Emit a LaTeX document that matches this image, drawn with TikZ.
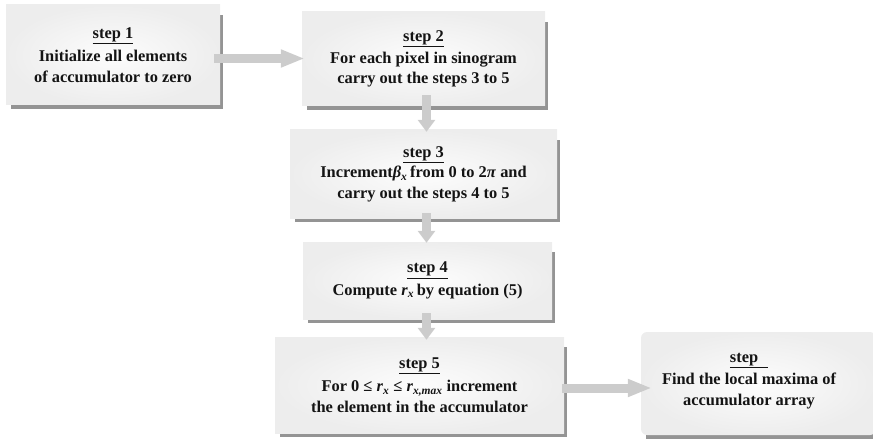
\documentclass[tikz,border=0pt]{standalone}
\usepackage{fontspec}
\setmainfont{Liberation Serif}
\usetikzlibrary{arrows.meta,backgrounds}
\newcommand\mysub[1]{\textsubscript{\textit{#1}}}
\begin{document}
\begin{tikzpicture}[x=1pt,y=1pt,
  box/.style={inner sep=0pt, align=center, text=black!92,
    font=\fontsize{16.4}{20.5}\selectfont\bfseries,
    inner color=black!1, outer color=black!7},
  plaintext/.style={inner sep=0pt, align=center, text=black!92,
    font=\fontsize{16.4}{20.5}\selectfont\bfseries},
  harrow/.style={draw=black!20, line width=9pt, -{Triangle[width=16.5pt,length=24pt]}},
  varrow/.style={draw=black!20, line width=9pt, -{Triangle[width=17pt,length=12pt]}},
  shadowc/.style={fill=black!42}
]
\useasboundingbox (0,0) rectangle (873,-441);

\node[box, minimum width=214pt, minimum height=100pt] (b1) at (113,-55)
  {\underline{step 1}\\[3pt] Initialize all elements\\ of accumulator to zero};
\node[box, minimum width=243pt, minimum height=94pt] (b2) at (423.5,-59)
  {\underline{step 2}\\[1pt] For each pixel in sinogram\\ carry out the steps 3 to 5};
\node[box, minimum width=267pt, minimum height=88pt] (b3) at (423.5,-174)
  {\underline{step 3}\\[0pt] Increment\textit{β}\mysub{x}\,from 0 to 2\textit{π} and\\ carry out the steps 4 to 5};
\node[box, minimum width=249pt, minimum height=77pt] (b4) at (427.5,-280.5)
  {\underline{step 4}\\[2pt] Compute \textit{r}\mysub{x}\,by equation (5)};
\node[box, minimum width=289pt, minimum height=96pt] (b5) at (419.5,-385)
  {\underline{step 5}\\[3pt] For 0 ≤ \textit{r}\mysub{x} ≤ \textit{r}\mysub{x,max} increment\\ the element in the accumulator};
\node[box, minimum width=235pt, minimum height=103pt, rounded corners=6pt] (b6) at (758.5,-383.5) {};
\node[plaintext] (b6t) at (749,-381)
  {\underline{step\hspace{0.6em}}\\[2pt] Find the local maxima of\\ accumulator array};

\begin{scope}[on background layer]
  \foreach \b in {b1,b2,b3,b4,b5,b6}{
    \fill[shadowc] ([shift={(5pt,-4pt)}]\b.south west) rectangle ([shift={(3pt,-10pt)}]\b.north east);
  }
\end{scope}

\draw[harrow] ([xshift=-6pt,yshift=-3.5pt]b1.east) -- ([xshift=3pt,yshift=0.5pt]b2.west);
\draw[varrow] ([xshift=3pt,yshift=11pt]b2.south) -- ([xshift=3pt,yshift=-2pt]b3.north);
\draw[varrow] ([xshift=3pt,yshift=5pt]b3.south) -- ([xshift=-1pt,yshift=-1pt]b4.north);
\draw[varrow] ([xshift=-1pt,yshift=6pt]b4.south) -- ([xshift=7pt,yshift=-3pt]b5.north);
\draw[harrow] ([xshift=-2pt,yshift=-3pt]b5.east) -- ([xshift=11pt,yshift=-4.5pt]b6.west);
\end{tikzpicture}
\end{document}
